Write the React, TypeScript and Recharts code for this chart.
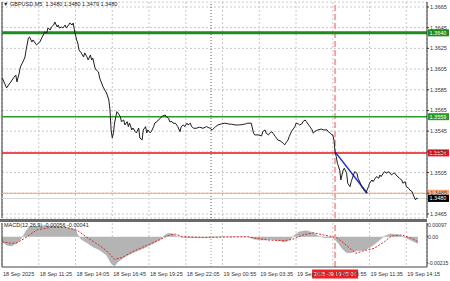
import {
	Area,
	CartesianGrid,
	ComposedChart,
	Line,
	LineChart,
	ReferenceLine,
	XAxis,
	YAxis,
} from "recharts";

// bar index = 5 minute bar counted from the first bar on the chart
const timeTicks = [0, 32, 64, 96, 128, 160, 192, 224, 256, 288, 320, 352];
const timeLabels = [
	"18 Sep 2025",
	"18 Sep 11:25",
	"18 Sep 14:05",
	"18 Sep 16:45",
	"18 Sep 19:25",
	"18 Sep 22:05",
	"19 Sep 00:55",
	"19 Sep 03:35",
	"19 Sep 06:15",
	"19 Sep 08:55",
	"19 Sep 11:35",
	"19 Sep 14:15",
];

const priceTicks = [
	1.3665, 1.3645, 1.3625, 1.3605, 1.3585, 1.3565, 1.3545, 1.3525, 1.3505,
	1.3485, 1.3465,
];

const priceBars = [
	0, 1, 4, 7, 10, 12, 13, 15, 16, 19, 20, 21, 23, 24, 26, 27, 30, 33, 35, 36,
	37, 39, 40, 42, 43, 45, 46, 48, 49, 50, 52, 53, 55, 56, 58, 59, 61, 62, 63,
	65, 66, 67, 69, 71, 72, 74, 75, 77, 78, 79, 81, 82, 84, 85, 88, 91, 93, 94,
	95, 96, 97, 98, 100, 101, 103, 104, 106, 107, 109, 110, 111, 113, 114, 116,
	117, 119, 120, 122, 123, 125, 126, 127, 129, 130, 132, 133, 135, 136, 138,
	139, 140, 142, 143, 145, 146, 148, 149, 151, 152, 153, 155, 156, 158, 159,
	161, 162, 164, 165, 167, 169, 172, 175, 178, 181, 183, 186, 188, 191, 194,
	197, 200, 203, 206, 209, 212, 214, 217, 219, 220, 223, 226, 227, 229, 230,
	232, 233, 235, 236, 238, 239, 240, 242, 243, 245, 246, 248, 249, 250, 252,
	253, 255, 256, 258, 259, 261, 262, 264, 265, 267, 268, 270, 271, 272, 275,
	278, 280, 283, 284, 286, 287, 288, 289, 290, 291, 292, 294, 295, 297, 298,
	300, 301, 303, 304, 306, 307, 309, 310, 312, 313, 315, 316, 317, 319, 320,
	322, 323, 325, 326, 328, 329, 330, 332, 333, 335, 336, 338, 339, 341, 342,
	343, 346, 348, 349, 351, 352, 354, 355, 357, 358, 360, 361, 362,
];
const priceValues = [
	1.35964, 1.35945, 1.35868, 1.35916, 1.35964, 1.35993, 1.35926, 1.36012,
	1.3607, 1.36138, 1.36167, 1.36235, 1.36351, 1.3636, 1.36312, 1.36331,
	1.36283, 1.36312, 1.3636, 1.3638, 1.36409, 1.36399, 1.36447, 1.36428,
	1.36457, 1.36476, 1.36505, 1.36457, 1.36476, 1.36447, 1.36457, 1.36447,
	1.36476, 1.36447, 1.36476, 1.36495, 1.36476, 1.36495, 1.36428, 1.36331,
	1.36302, 1.36235, 1.36206, 1.36167, 1.36206, 1.36167, 1.36138, 1.36186,
	1.36138, 1.36157, 1.36061, 1.36041, 1.36022, 1.35964, 1.35877, 1.35819,
	1.35752, 1.35655, 1.35462, 1.35385, 1.35433, 1.35529, 1.35639, 1.35626,
	1.3559, 1.35542, 1.35558, 1.3551, 1.35542, 1.35494, 1.35529, 1.35462,
	1.35481, 1.35445, 1.35433, 1.35481, 1.35385, 1.35365, 1.35462, 1.35494,
	1.35433, 1.35462, 1.35433, 1.35445, 1.35494, 1.35529, 1.35542, 1.35558,
	1.35575, 1.3559, 1.35597, 1.35607, 1.3559, 1.35575, 1.35542, 1.35542,
	1.35527, 1.35527, 1.3551, 1.35494, 1.35445, 1.35494, 1.3551, 1.35494,
	1.35527, 1.3551, 1.35527, 1.35494, 1.35478, 1.35478, 1.35488, 1.35478,
	1.35494, 1.35478, 1.35462, 1.35494, 1.3551, 1.3552, 1.35527, 1.3552,
	1.35517, 1.3551, 1.3551, 1.35513, 1.3552, 1.35527, 1.35527, 1.3543, 1.35414,
	1.35414, 1.35404, 1.35445, 1.35462, 1.3543, 1.35414, 1.3543, 1.35445,
	1.3543, 1.35397, 1.35382, 1.35365, 1.35358, 1.35349, 1.35333, 1.35317,
	1.35349, 1.35365, 1.35397, 1.35445, 1.35462, 1.35494, 1.35527, 1.3552,
	1.3551, 1.3552, 1.35542, 1.35558, 1.35542, 1.3551, 1.35494, 1.35462, 1.3543,
	1.35445, 1.35462, 1.3547, 1.35462, 1.35462, 1.35445, 1.3543, 1.35414,
	1.35414, 1.35365, 1.3525, 1.35204, 1.3514, 1.35075, 1.34979, 1.35075,
	1.35092, 1.35044, 1.34947, 1.34914, 1.34962, 1.35027, 1.35059, 1.35044,
	1.34995, 1.34947, 1.34914, 1.34882, 1.34866, 1.34856, 1.34914, 1.34947,
	1.34979, 1.34962, 1.34995, 1.35011, 1.34995, 1.35027, 1.35011, 1.35044,
	1.35059, 1.35044, 1.35059, 1.35044, 1.35027, 1.35044, 1.35044, 1.35027,
	1.34995, 1.34979, 1.34947, 1.34962, 1.34914, 1.34899, 1.34882, 1.34866,
	1.34834, 1.34786, 1.34802, 1.348,
];

// MACD main (histogram) and signal line
const macdBars = [
	0, 4, 8, 13, 16, 19, 21, 24, 30, 42, 56, 64, 66, 69, 74, 79, 85, 91, 95, 98,
	101, 107, 114, 123, 132, 138, 142, 145, 149, 153, 161, 178, 194, 203, 214,
	219, 226, 235, 242, 246, 251, 255, 259, 265, 271, 275, 281, 288, 293, 296,
	300, 304, 309, 316, 322, 328, 332, 338, 345, 351, 357, 362,
];
const macdValues = [
	-0.00041, -0.00069, -0.00077, -0.00055, -0.00022, 0.00014, 0.0005, 0.00083,
	0.00086, 0.00088, 0.00077, 0.00061, 0.00014, -0.00022, -0.0005, -0.00083,
	-0.0011, -0.00152, -0.00221, -0.00243, -0.00207, -0.00166, -0.00133,
	-0.00097, -0.00055, -0.00022, 0.00014, 0.00028, 0.00022, 0, -0.00008,
	-0.00006, 0, 0, 0, -0.00019, -0.00028, -0.00022, -0.00033, -0.00044,
	-0.00022, 0.00014, 0.00041, 0.0005, 0.00033, 0.00006, -0.00008, -0.00006,
	-0.00055, -0.00097, -0.00133, -0.00133, -0.00116, -0.0011, -0.00077,
	-0.00033, 0, 0.00022, 0.00017, -0.00006, -0.00033, -0.00056,
];
const signalBars = [
	0, 8, 13, 21, 30, 42, 56, 66, 74, 83, 91, 98, 105, 114, 126, 138, 145, 151,
	157, 175, 194, 214, 220, 232, 246, 253, 262, 271, 280, 291, 296, 304, 308,
	315, 324, 333, 339, 348, 357, 362,
];
const signalValues = [
	-0.00041, -0.00055, -0.0005, -0.00006, 0.00055, 0.00077, 0.00077, 0.0005,
	-0.00006, -0.00061, -0.00116, -0.00188, -0.00171, -0.00122, -0.00072,
	-0.00022, 0.00011, 0.00022, 0, -0.00006, -0.00003, 0, -0.00011, -0.00028,
	-0.00033, -0.00022, 0.00014, 0.00033, 0.00014, -0.00006, -0.00041,
	-0.00105, -0.00138, -0.00116, -0.00097, -0.00041, 0.00006, 0.00014,
	-0.00014, -0.00041,
];
const macdTicks = [0.00097, 0, -0.00215];
const macdTickLabels = ["0.00097", "0.00", "-0.00215"];

const levelPrices = [1.364, 1.3559, 1.3524, 1.3485];
const levelText = ["1.3640", "1.3559", "1.3524", "1.3485"];
const lastPrice = 1.348;
const trendStart = { bar: 290, price: 1.3525 };
const trendEnd = { bar: 318, price: 1.3485 };
const signalBar = 290;
const signalTime = "2025.09.19 09:00";
const daySeparatorBar = 182;
const title = "▼ GBPUSD,M5  1.3480 1.3480 1.3479 1.3480";
const macdTitle = "MACD(12,26,9) -0.00056 -0.00041";

const FONT = "'Liberation Sans', Arial, sans-serif";
const levelColors = ["#1d8c1d", "#279a27", "#e8161e", "#f5a070"];
const levelWidths = [3, 1.5, 1.5, 1];

const priceData = priceBars.map((bar, i) => ({ bar, price: priceValues[i] }));

const macdMap = new Map<number, { bar: number; macd?: number; signal?: number }>();
macdBars.forEach((bar, i) => {
	macdMap.set(bar, { ...(macdMap.get(bar) ?? { bar }), macd: macdValues[i] });
});
signalBars.forEach((bar, i) => {
	macdMap.set(bar, { ...(macdMap.get(bar) ?? { bar }), signal: signalValues[i] });
});
const macdData = Array.from(macdMap.values()).sort((a, b) => a.bar - b.bar);

const PriceTag =
	(text: string, fill: string, textColor = "#fff") =>
	(props: any) => {
		const vb = props.viewBox ?? {};
		const right = (vb.x ?? 0) + (vb.width ?? 0);
		const y = vb.y ?? 0;
		return (
			<g>
				<rect x={right + 1} y={y - 3.5} width={21} height={7} fill={fill} />
				<text
					x={right + 2.5}
					y={y + 2}
					fontSize={5.5}
					fontFamily={FONT}
					fill={textColor}
				>
					{text}
				</text>
			</g>
		);
	};

const PriceTick = ({ x, y, payload }: any) => (
	<text x={x} y={y + 2} fontSize={5.5} fontFamily={FONT} fill="#333">
		{payload.value.toFixed(4)}
	</text>
);

const MacdTick = ({ x, y, payload }: any) => (
	<text x={x} y={y + 2} fontSize={5.2} fontFamily={FONT} fill="#333">
		{macdTickLabels[macdTicks.indexOf(payload.value)]}
	</text>
);

const TimeTick = ({ x, y, payload }: any) => (
	<text x={x + 1} y={y + 1} fontSize={5.5} fontFamily={FONT} fill="#333">
		{timeLabels[timeTicks.indexOf(payload.value)]}
	</text>
);

const TimeTag = (props: any) => {
	const vb = props.viewBox ?? {};
	const cx = vb.x ?? 0;
	const bottom = (vb.y ?? 0) + (vb.height ?? 0);
	return (
		<g>
			<rect x={cx - 23} y={bottom + 2.5} width={46} height={9} fill="#f01e23" />
			<text
				x={cx}
				y={bottom + 9}
				textAnchor="middle"
				fontSize={5.5}
				fontFamily={FONT}
				fill="#fff"
			>
				{signalTime}
			</text>
		</g>
	);
};

export default function App() {
	return (
		<div
			style={{
				position: "absolute",
				left: 0,
				top: 0,
				width: 450,
				height: 281,
				background: "#fff",
				overflow: "hidden",
			}}
		>
			<div style={{ position: "absolute", left: 0, top: 0 }}>
				<LineChart
					width={450}
					height={220}
					data={priceData}
					margin={{ top: 2, right: 0, left: 2, bottom: 2 }}
				>
					<CartesianGrid stroke="#c8c8c8" strokeDasharray="2 2" />
					<XAxis
						dataKey="bar"
						type="number"
						domain={[0, 370]}
						ticks={timeTicks}
						interval={0}
						hide
					/>
					<YAxis
						orientation="right"
						width={23}
						domain={[1.34611, 1.36698]}
						ticks={priceTicks}
						interval={0}
						allowDataOverflow
						axisLine={{ stroke: "#333" }}
						tickLine={{ stroke: "#333" }}
						tickSize={2}
						tickMargin={1}
						tick={<PriceTick />}
					/>
					<ReferenceLine x={0} stroke="#333" strokeWidth={1} />
					<ReferenceLine
						x={daySeparatorBar}
						stroke="#555"
						strokeDasharray="1 2"
					/>
					<ReferenceLine
						x={signalBar}
						stroke="#f4a3a3"
						strokeWidth={2}
						strokeDasharray="6 3"
					/>
					<ReferenceLine y={lastPrice} stroke="#d8d8d8" strokeWidth={1} />
					{levelPrices.map((p, i) => (
						<ReferenceLine
							key={p}
							y={p}
							stroke={levelColors[i]}
							strokeWidth={levelWidths[i]}
							label={PriceTag(levelText[i], levelColors[i])}
						/>
					))}
					<ReferenceLine
						y={lastPrice}
						stroke="none"
						label={PriceTag("1.3480", "#000")}
					/>
					<ReferenceLine
						segment={[
							{ x: trendStart.bar, y: trendStart.price },
							{ x: trendEnd.bar, y: trendEnd.price },
						]}
						stroke="#1f2fd0"
						strokeWidth={1.5}
					/>
					<Line
						type="linear"
						dataKey="price"
						stroke="#1e1e1e"
						strokeWidth={1}
						dot={false}
						isAnimationActive={false}
					/>
				</LineChart>
			</div>
			<div
				style={{
					position: "absolute",
					left: 0,
					top: 219,
					width: 427,
					height: 3,
					background: "#6a6a6a",
				}}
			/>
			<div style={{ position: "absolute", left: 0, top: 220 }}>
				<ComposedChart
					width={450}
					height={61}
					data={macdData}
					margin={{ top: 3, right: 0, left: 2, bottom: 0 }}
				>
					<CartesianGrid
						stroke="#c8c8c8"
						strokeDasharray="2 2"
						horizontal={false}
					/>
					<XAxis
						dataKey="bar"
						type="number"
						domain={[0, 370]}
						ticks={timeTicks}
						interval={0}
						height={14}
						axisLine={{ stroke: "#444" }}
						tickLine={false}
						tick={<TimeTick />}
					/>
					<YAxis
						orientation="right"
						width={23}
						domain={[-0.002512, 0.001136]}
						ticks={macdTicks}
						interval={0}
						allowDataOverflow
						axisLine={{ stroke: "#333" }}
						tickLine={{ stroke: "#333" }}
						tickSize={1}
						tickMargin={0}
						tick={<MacdTick />}
					/>
					<ReferenceLine x={0} stroke="#333" strokeWidth={1} />
					<ReferenceLine
						x={daySeparatorBar}
						stroke="#999"
						strokeDasharray="1 2"
					/>
					<Area
						type="linear"
						dataKey="macd"
						baseValue={0}
						fill="#b4b4b4"
						fillOpacity={1}
						stroke="#a8a8a8"
						strokeWidth={0.5}
						connectNulls
						isAnimationActive={false}
					/>
					<Line
						type="linear"
						dataKey="signal"
						stroke="#e02828"
						strokeWidth={1}
						strokeDasharray="2 1.5"
						dot={false}
						connectNulls
						isAnimationActive={false}
					/>
					<ReferenceLine
						x={signalBar}
						stroke="#f4a3a3"
						strokeWidth={2}
						strokeDasharray="6 3"
						label={TimeTag}
					/>
				</ComposedChart>
			</div>
			<div
				style={{
					position: "absolute",
					left: 3,
					top: 1,
					fontSize: 5.5,
					fontFamily: FONT,
					color: "#222",
					whiteSpace: "pre",
				}}
			>
				{title}
			</div>
			<div
				style={{
					position: "absolute",
					left: 4,
					top: 222,
					fontSize: 5.5,
					fontFamily: FONT,
					color: "#222",
					whiteSpace: "pre",
				}}
			>
				{macdTitle}
			</div>
		</div>
	);
}
